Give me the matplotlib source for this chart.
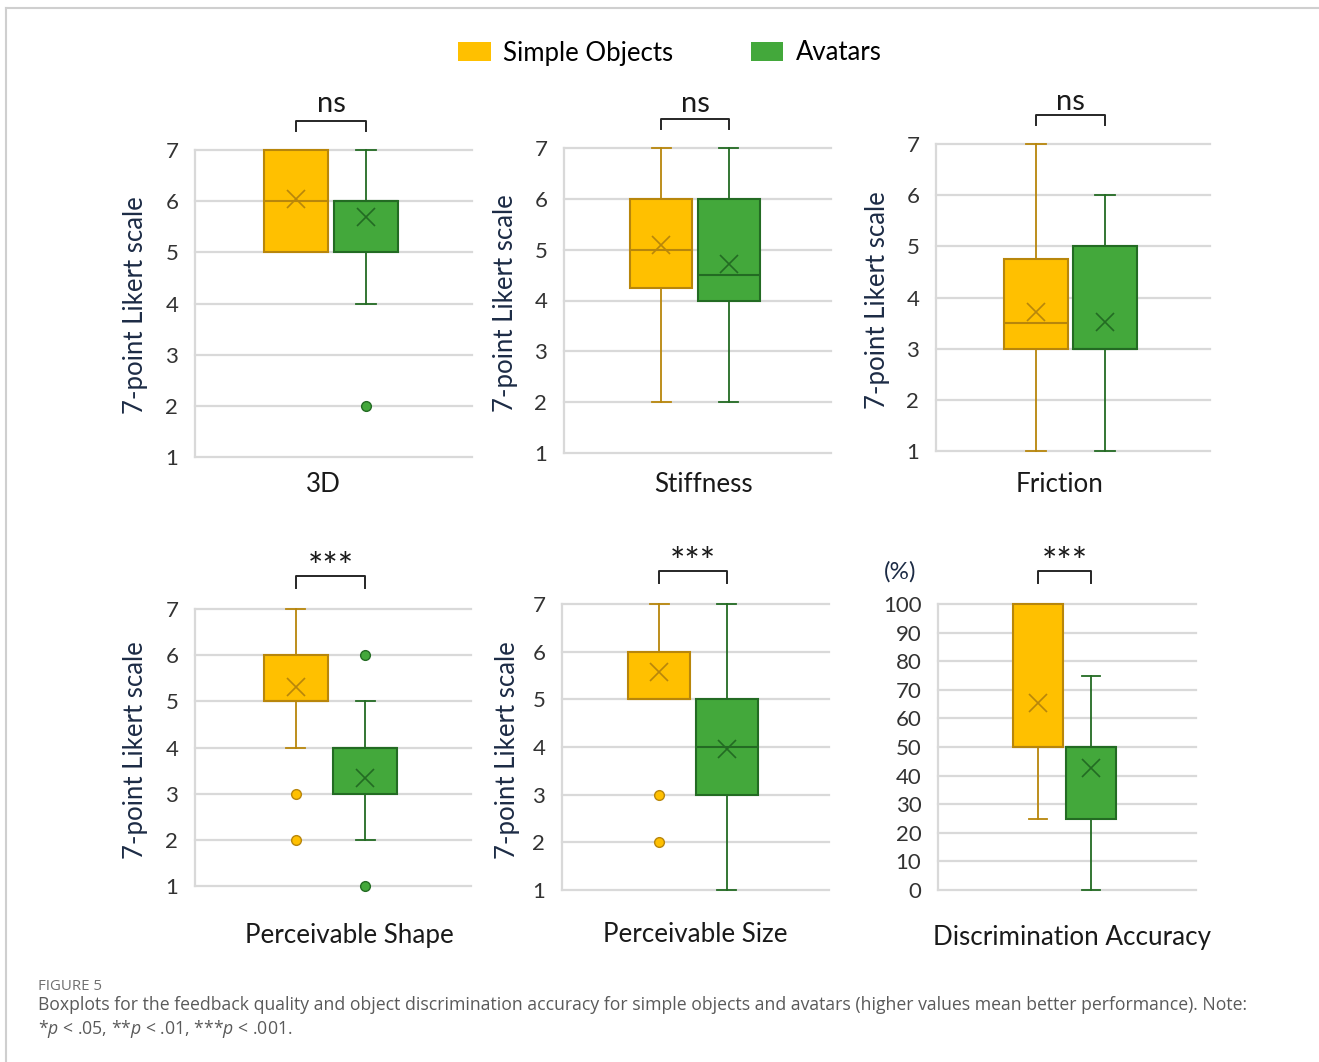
import matplotlib
matplotlib.use("Agg")
import matplotlib.pyplot as plt
from matplotlib.patches import Patch
from matplotlib.lines import Line2D
import matplotlib.transforms as mtransforms

# ---------------- data ----------------
panels = ["3D", "Stiffness", "Friction", "Perceivable Shape", "Perceivable Size", "Discrimination Accuracy"]
sig_labels = ["ns", "ns", "ns", "***", "***", "***"]
series_names = ["Simple Objects", "Avatars"]

simple_q1 = [5, 4.25, 3, 5, 5, 50]
simple_med = [6, 5, 3.5, 5, 5, 50]
simple_q3 = [7, 6, 4.75, 6, 6, 100]
simple_lo = [5, 2, 1, 4, 5, 25]
simple_hi = [7, 7, 7, 7, 7, 100]
simple_mean = [6.04, 5.09, 3.72, 5.31, 5.57, 65.4]
simple_out = [[], [], [], [3, 2], [3, 2], []]

avatar_q1 = [5, 4, 3, 3, 3, 25]
avatar_med = [6, 4.5, 3, 4, 4, 50]
avatar_q3 = [6, 6, 5, 4, 5, 50]
avatar_lo = [4, 2, 1, 2, 1, 0]
avatar_hi = [7, 7, 6, 5, 7, 75]
avatar_mean = [5.69, 4.72, 3.52, 3.34, 3.96, 42.7]
avatar_out = [[2], [], [], [6, 1], [], []]

likert_ticks = [1, 2, 3, 4, 5, 6, 7]
acc_ticks = [0, 10, 20, 30, 40, 50, 60, 70, 80, 90, 100]

caption_title = "FIGURE 5"
caption_line1 = ("Boxplots for the feedback quality and object discrimination accuracy for simple objects "
                 "and avatars (higher values mean better performance). Note:")
caption_line2 = r"*$\it{p}$ < .05, **$\it{p}$ < .01, ***$\it{p}$ < .001."

# ---------------- style ----------------
W, H = 1319, 1062
plt.rcParams['font.family'] = ['Lato', 'DejaVu Sans']
plt.rcParams['mathtext.fontset'] = 'custom'
plt.rcParams['mathtext.it'] = 'Open Sans:italic'

YEL, YEL_E = "#FFC000", "#B8860B"
GRN, GRN_E = "#43A83B", "#236B23"
GRID = "#d9d9d9"

fig = plt.figure(figsize=(W / 100, H / 100), dpi=100)

def fbox(l, r, t, b):
    return [l / W, (H - b) / H, (r - l) / W, (b - t) / H]

# axes pixel boxes: left, right, top, bottom
ax_px = [(195, 472, 150, 457), (564, 831, 148, 453), (936, 1210, 144, 451),
         (195, 471, 609, 886), (562, 829, 604, 890), (938, 1196, 604, 890)]
xlabel_px = [(323, 484), (703, 484), (1060, 484), (349, 935), (695, 935), (1072, 938)]
ylabel_px = [(136, 305), (506, 303), (877, 300), (136, 750), (508, 750), None]
sig_text_off = [38, 36, 34, 30, 30, 30]

def stats(q1, med, q3, lo, hi, mean, out):
    return dict(q1=q1, med=med, q3=q3, whislo=lo, whishi=hi, mean=mean, fliers=out)

for i, name in enumerate(panels):
    ax = fig.add_axes(fbox(*ax_px[i]))
    if i < 5:
        pos = [0.365, 0.617]
        wid = 0.232
    else:
        pos = [0.388, 0.593]
        wid = 0.194
    groups = [
        (stats(simple_q1[i], simple_med[i], simple_q3[i], simple_lo[i], simple_hi[i], simple_mean[i], simple_out[i]), YEL, YEL_E),
        (stats(avatar_q1[i], avatar_med[i], avatar_q3[i], avatar_lo[i], avatar_hi[i], avatar_mean[i], avatar_out[i]), GRN, GRN_E),
    ]
    for (st, fc, ec), p in zip(groups, pos):
        art = ax.bxp([st], positions=[p], widths=wid, capwidths=0.07, patch_artist=True,
                     showmeans=True, showfliers=True,
                     boxprops=dict(facecolor=fc, edgecolor=ec, linewidth=1.5),
                     medianprops=dict(color=ec, linewidth=1.5),
                     whiskerprops=dict(color=ec, linewidth=1.3),
                     capprops=dict(color=ec, linewidth=1.3),
                     meanprops=dict(marker='x', markeredgecolor=ec, markersize=13, markeredgewidth=1.2),
                     flierprops=dict(marker='o', markerfacecolor=fc, markeredgecolor=ec, markersize=7,
                                     markeredgewidth=1.0))
        for key in art:
            for a in art[key]:
                a.set_clip_on(False)
    ax.set_xlim(0, 1)
    if i < 5:
        ax.set_ylim(1, 7)
        ax.set_yticks(likert_ticks)
    else:
        ax.set_ylim(0, 100)
        ax.set_yticks(acc_ticks)
    ax.set_xticks([])
    ax.yaxis.grid(True, color=GRID, linewidth=1.6)
    for gl in ax.get_ygridlines():
        gl.set_clip_on(False)
    ax.set_axisbelow(True)
    for s in ['top', 'right', 'bottom']:
        ax.spines[s].set_visible(False)
    ax.spines['left'].set_color(GRID)
    ax.spines['left'].set_linewidth(1.6)
    ax.tick_params(axis='y', length=0, pad=12, labelsize=16, labelcolor='#333333')
    ax.set_facecolor('none')

    # significance bracket
    top_off, leg_off = (29, 19) if i < 3 else (33, 21)
    trans = mtransforms.blended_transform_factory(ax.transData, ax.transAxes)
    top_t = mtransforms.offset_copy(trans, fig=fig, y=top_off, units='dots')
    leg_t = mtransforms.offset_copy(trans, fig=fig, y=leg_off, units='dots')
    x0, x1 = pos

    def disp(x, t):
        return t.transform((x, 1.0))
    pts = [disp(x0, leg_t), disp(x0, top_t), disp(x1, top_t), disp(x1, leg_t)]
    fig_pts = [fig.transFigure.inverted().transform(p) for p in pts]
    fig.add_artist(Line2D([p[0] for p in fig_pts], [p[1] for p in fig_pts],
                          color='#262626', linewidth=1.4, transform=fig.transFigure))
    fs = 21 if sig_labels[i] == "ns" else 26
    txt_t = mtransforms.offset_copy(trans, fig=fig, y=sig_text_off[i], units='dots')
    ax.text((x0 + x1) / 2, 1.0, sig_labels[i], transform=txt_t, ha='center', va='baseline',
            fontsize=fs, color='#1a1a1a')

    # x label (category)
    xl, yl = xlabel_px[i]
    fig.text(xl / W, 1 - yl / H, name, ha='center', va='center', fontsize=18.7, color='#1a1a1a')
    if ylabel_px[i] is not None:
        xx, yy = ylabel_px[i]
        fig.text(xx / W, 1 - yy / H, "7-point Likert scale", rotation=90, ha='center', va='center',
                 fontsize=18.5, color='#1c2b45')

fig.text(900 / W, 1 - 572 / H, "(%)", ha='center', va='center', fontsize=17.5, color='#1c2b45')

# legend
handles = [Patch(facecolor=YEL, edgecolor='none'), Patch(facecolor=GRN, edgecolor='none')]
fig.legend(handles, series_names, loc='center', bbox_to_anchor=(670 / W, 1 - 53 / H), ncol=2,
           frameon=False, fontsize=18.5, handlelength=1.25, handleheight=0.74, handletextpad=0.5,
           columnspacing=3.0)

# caption
fig.text(38 / W, 1 - 987 / H, caption_title, ha='left', va='center', fontsize=10.8,
         color='#707070', family=['Open Sans', 'DejaVu Sans'])
fig.text(38 / W, 1 - 1005 / H, caption_line1, ha='left', va='center', fontsize=12.7,
         color='#5a5a5a', family=['Open Sans', 'DejaVu Sans'])
fig.text(38 / W, 1 - 1029 / H, caption_line2, ha='left', va='center', fontsize=12.7,
         color='#5a5a5a', family=['Open Sans', 'DejaVu Sans'])

# frame
fig.add_artist(Line2D([6 / W, 1.0], [1 - 8 / H, 1 - 8 / H], color='#cfcfcf', linewidth=1.5,
                      transform=fig.transFigure))
fig.add_artist(Line2D([6 / W, 6 / W], [1 - 8 / H, 0], color='#cfcfcf', linewidth=1.5,
                      transform=fig.transFigure))

fig.savefig("out.png", dpi=100, facecolor='white')
